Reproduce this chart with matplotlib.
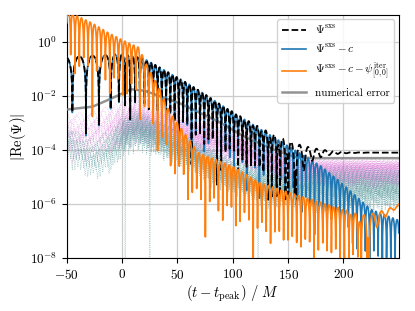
import matplotlib
matplotlib.use('Agg')
import matplotlib.pyplot as plt
import numpy as np
from matplotlib.ticker import NullLocator

plt.rcParams.update({
    'font.family': 'serif',
    'font.serif': ['cmr10', 'DejaVu Serif'],
    'mathtext.fontset': 'cm',
    'axes.formatter.use_mathtext': True,
    'axes.unicode_minus': False,
    'font.size': 10,
})

# --- values (log10 envelopes at knot times, M units) ---
# instantaneous frequency of the sxs waveform
freq_t = [-50, -15, -5, 5, 20, 40, 250]
freq_w = [0.245, 0.28, 0.45, 0.68, 0.78, 0.82, 0.82]

# envelope of Re(Psi^sxs - c)
sxs_t = [-50, -20, 0, 20, 60, 100, 150, 180, 195, 225, 250]
sxs_log = [-0.55, -0.5, -0.45, -0.62, -1.55, -2.6, -3.85, -4.6, -5.1, -6.2, -6.6]
c_offset = 8e-5

# envelope of Psi^sxs - c - psi^iter, plus its slow non-oscillating tail
orange_t = [-50, -27, -12, 4, 15, 24, 33, 43, 69, 100, 124, 153, 200, 220, 250]
orange_log = [1.15, 0.7, 0.33, 0.0, -0.2, -1.0, -1.65, -2.6, -4.1, -4.6, -5.2, -5.6, -6.2, -6.6, -7.0]
orange_w = 0.8
tail_t = [-50, 200, 230, 250]
tail_log = [-9.0, -7.5, -6.5, -6.05]

# numerical error
err_t = [-50, -27, -10, 8, 20, 51, 85, 110, 135, 155, 170, 250]
err_log = [-2.5, -2.4, -2.1, -1.75, -1.8, -2.25, -2.9, -3.5, -3.95, -4.25, -4.3, -4.3]

# pink dotted band (top / bottom envelope)
pink_t = [-50, -30, -10, 10, 30, 60, 100, 140, 160, 250]
pink_top = [-2.65, -2.6, -2.35, -2.0, -2.2, -2.6, -3.1, -3.9, -4.3, -4.35]
pink_bot = [-3.6, -3.5, -3.3, -3.0, -3.1, -3.4, -3.8, -4.4, -4.6, -4.6]

# teal dotted band (top / bottom envelope) and its deep zero crossings
teal_t = [-50, -35, -25, -10, 0, 13, 30, 60, 100, 130, 160, 200, 250]
teal_top = [-3.0, -3.5, -3.6, -3.2, -2.8, -2.5, -2.8, -3.5, -4.3, -4.6, -4.7, -4.6, -4.7]
teal_bot = [-3.7, -4.1, -4.3, -4.0, -3.5, -3.2, -3.4, -4.0, -4.9, -5.3, -5.4, -5.5, -5.5]
teal_zero_times = [3.0, 25.0, 123.0]

band_shifts = [0.0, 0.7, 1.4, 2.1, 2.8, 0.35, 1.05, 1.75, 2.45, 3.1]
band_depth = 0.88

dt = 0.1
t = np.arange(-50, 250 + dt, dt)

omega = np.interp(t, freq_t, freq_w)
phase = np.cumsum(omega) * dt + 0.3

re_minus_c = 10 ** np.interp(t, sxs_t, sxs_log) * np.cos(phase)
sxs = np.abs(re_minus_c + c_offset)
sxs_minus_c = np.abs(re_minus_c)

orange = np.abs(10 ** np.interp(t, orange_t, orange_log) * np.cos(orange_w * t + 1.1)
                + 10 ** np.interp(t, tail_t, tail_log))

err = 10 ** np.interp(t, err_t, err_log)

# the dotted bands are sampled more coarsely
dtb = 0.35
tb = np.arange(-50, 250 + dtb, dtb)
phase_b = np.interp(tb, t, phase)

fig = plt.figure(figsize=(4.15, 3.11), dpi=100)
ax = fig.add_axes([0.161, 0.170, 0.800, 0.782])

n = len(band_shifts)
for k, sh in enumerate(band_shifts):
    frac = k / (n - 1)
    lp = np.interp(tb, pink_t, pink_top) * (1 - frac) + np.interp(tb, pink_t, pink_bot) * frac
    mod = 1 - band_depth + band_depth * np.abs(np.cos(phase_b + sh))
    ax.plot(tb, 10 ** lp * mod, ls=':', lw=0.5, color='orchid', alpha=0.6, zorder=1)
for k, sh in enumerate(band_shifts):
    frac = k / (n - 1)
    lt = np.interp(tb, teal_t, teal_top) * (1 - frac) + np.interp(tb, teal_t, teal_bot) * frac
    mod = 1 - band_depth + band_depth * np.abs(np.cos(phase_b * 1.05 + sh))
    y = 10 ** lt * mod
    if k == 0:
        for tz in teal_zero_times:
            y[np.argmin(np.abs(tb - tz))] = 0.0
    ax.plot(tb, y, ls=':', lw=0.5, color='cadetblue', alpha=0.75, zorder=2)

l_err, = ax.plot(t, err, color='gray', lw=1.8, alpha=0.85, zorder=3, label='numerical error')
l_blue, = ax.plot(t, sxs_minus_c, color='#1f77b4', lw=1.2, zorder=4,
                  label=r'$\Psi^{\mathrm{sxs}} - c$')
l_black, = ax.plot(t, sxs, color='black', ls='--', lw=1.3, zorder=5,
                   label=r'$\Psi^{\mathrm{sxs}}$')
l_orange, = ax.plot(t, orange, color='#ff7f0e', lw=1.2, zorder=6,
                    label=r'$\Psi^{\mathrm{sxs}} - c - \psi^{\mathrm{iter}}_{[0,0]}$')

ax.set_yscale('log')
ax.set_xlim(-50, 250)
ax.set_ylim(1e-8, 1e1)
ax.set_xticks([-50, 0, 50, 100, 150, 200])
ax.set_yticks([1e-8, 1e-6, 1e-4, 1e-2, 1e0])
ax.yaxis.set_minor_locator(NullLocator())
ax.tick_params(labelsize=9.5)
ax.grid(True, color='#cccccc', lw=0.9)
ax.set_axisbelow(True)
ax.set_xlabel(r'$(t - t_{\mathrm{peak}})\ /\ M$', fontsize=10.5, labelpad=1)
ax.set_ylabel(r'$|\mathrm{Re}(\Psi)|$', fontsize=10.5, labelpad=1)

ax.legend(handles=[l_black, l_blue, l_orange, l_err], loc='upper right', fontsize=8,
          framealpha=0.85, borderaxespad=0.4, handlelength=2.2, labelspacing=0.55,
          borderpad=0.4, handletextpad=0.8)

fig.savefig('out.png', dpi=100)
